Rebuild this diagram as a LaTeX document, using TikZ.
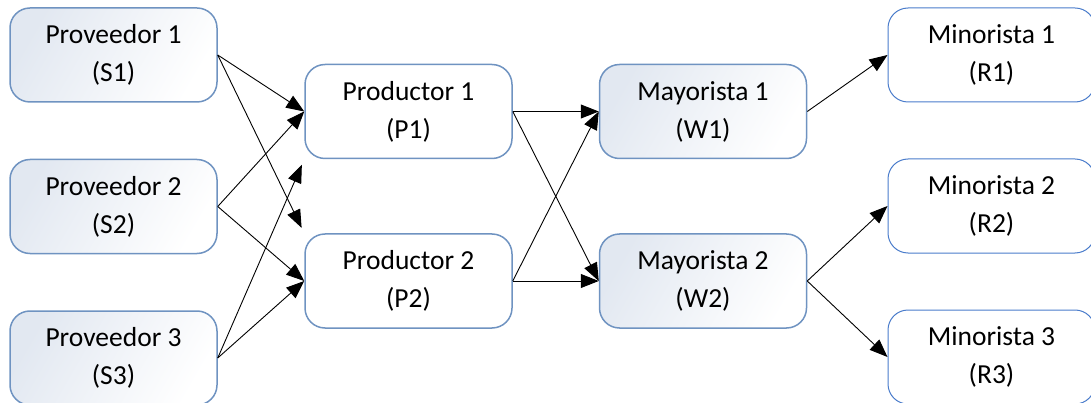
\documentclass[tikz,border=0pt]{standalone}
\usepackage{fontspec}
\setmainfont{Carlito}
\usepackage{tikz}
\usetikzlibrary{arrows.meta, positioning}

\definecolor{edgeblue}{HTML}{6F93C1}
\definecolor{retblue}{HTML}{4A7CCB}
\definecolor{shadeblue}{HTML}{E2E8F1}

\begin{document}
\begin{tikzpicture}[
    x=1pt, y=1pt,
    node distance=56pt and 88pt,
    box/.style={rectangle, draw=edgeblue, line width=1.5pt, rounded corners=20pt,
                minimum width=207pt, minimum height=94pt,
                font=\fontsize{27.5}{38}\selectfont, align=center, fill=white},
    shaded/.style={box, left color=shadeblue, right color=white, shading angle=60},
    retail/.style={box, draw=retblue, line width=1pt},
    arrow/.style={-{Triangle[length=18pt,width=14pt]}, line width=0.9pt, black}
]
\useasboundingbox (0,0) rectangle (1091,-403);

%% --- Suppliers ---
\node[shaded] (s1) at (113.5,-55) {Proveedor 1\\(S1)};
\node[shaded, below=of s1] (s2) {Proveedor 2\\(S2)};
\node[shaded, below=of s2] (s3) {Proveedor 3\\(S3)};

%% --- Producers ---
\node[box] (p1) at (408.5,-111.5) {Productor 1\\(P1)};
\node[box, below=74pt of p1] (p2) {Productor 2\\(P2)};

%% --- Wholesalers ---
\node[shaded, right=86pt of p1] (w1) {Mayorista 1\\(W1)};
\node[shaded, right=86pt of p2] (w2) {Mayorista 2\\(W2)};

%% --- Retailers ---
\node[retail] (r1) at (991.5,-55) {Minorista 1\\(R1)};
\node[retail, below=of r1] (r2) {Minorista 2\\(R2)};
\node[retail, below=of r2] (r3) {Minorista 3\\(R3)};

%% --- Suppliers to producers ---
\draw[arrow] (s1.east) -- (p1.west);
\draw[arrow, shorten >=6pt] (s1.east) -- (p2.north west);
\draw[arrow] (s2.east) -- (p1.west);
\draw[arrow] (s2.east) -- (p2.west);
\draw[arrow, shorten >=6pt] (s3.east) -- (p1.south west);
\draw[arrow] (s3.east) -- (p2.west);

%% --- Producers to wholesalers ---
\draw[arrow] (p1.east) -- (w1.west);
\draw[arrow] (p1.east) -- (w2.west);
\draw[arrow] (p2.east) -- (w1.west);
\draw[arrow] (p2.east) -- (w2.west);

%% --- Wholesalers to retailers ---
\draw[arrow] (w1.east) -- (r1.west);
\draw[arrow] (w2.east) -- (r2.west);
\draw[arrow] (w2.east) -- (r3.west);

\end{tikzpicture}
\end{document}
